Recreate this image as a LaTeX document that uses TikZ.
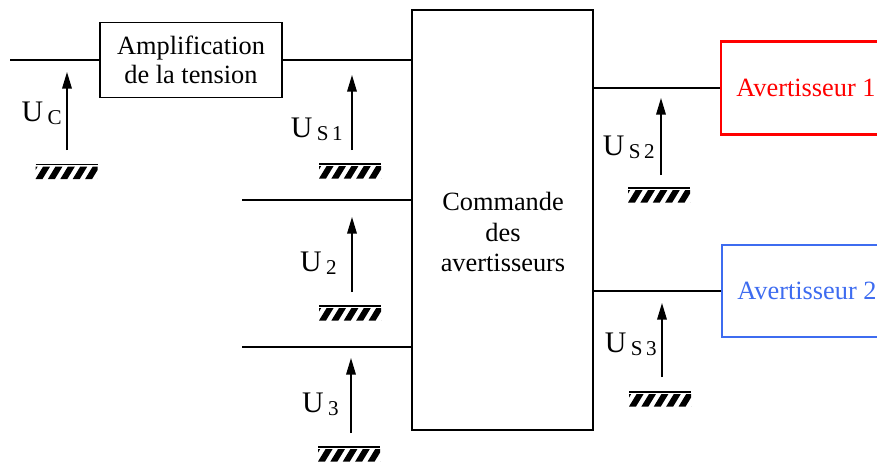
\documentclass[tikz,border=0pt]{standalone}
\usepackage{fontspec}
\setmainfont{Liberation Serif}
\usepackage{tikz}
\usetikzlibrary{arrows.meta,positioning,calc}
\usepackage{xcolor}
\definecolor{rougeav}{RGB}{255,0,0}
\definecolor{bleuav}{RGB}{62,108,240}
% tension label: U with its index set small and a bit lower
\newcommand{\tens}[1]{U\kern2.5pt\raisebox{-0.25ex}{\fontsize{12}{13}\selectfont #1}}

\begin{document}
\begin{tikzpicture}[x=0.02cm,y=-0.02cm,
 bloc/.style={draw,line width=1pt,align=center,font=\fontsize{15}{16.5}\selectfont},
 fil/.style={line width=1pt},
 fleche/.style={-{Triangle[length=9.5pt,width=5.5pt]},line width=0.8pt},
 lbltens/.style={anchor=base east,inner sep=0pt,font=\fontsize{17}{20}\selectfont},
 masse/.pic={
  \draw[line width=0.6pt] (-31,0) -- (31,0);
  \begin{scope}
   \clip (-31,2.2) rectangle (31,14.5);
   \foreach \i in {-1,...,5}
    \fill (\i*12.4-31,14.5) -- ++(7,0) -- ++(7.5,-12.3) -- ++(-7,0) -- cycle;
  \end{scope}
 }]
\clip (0,0) rectangle (877,464);

% blocks
\node[bloc,minimum width=3.64cm,minimum height=1.5cm] (ampli) at (191,60) {Amplification\\de la tension};
\node[bloc,minimum width=3.62cm,minimum height=8.4cm] (cmd) at (502.5,220) {};
\node[align=center,font=\fontsize{15}{17.3}\selectfont] (cmdtxt) at (503,232) {Commande\\des\\avertisseurs};
\node[bloc,draw=rougeav,text=rougeav,line width=1.3pt,minimum width=3.4cm,minimum height=1.86cm] (av1) at (806,88) {Avertisseur 1};
\node[bloc,draw=bleuav,text=bleuav,line width=1.3pt,minimum width=3.4cm,minimum height=1.84cm] (av2) at (807,291) {Avertisseur 2};

% wires
\coordinate (ue) at (10,60);
\coordinate (e2) at (242,200);
\coordinate (e3) at (242,347);
\draw[fil] (ue) -- (ue -| ampli.west);
\draw[fil] (ampli.east) -- (ampli.east -| cmd.west);
\draw[fil] (e2) -- (e2 -| cmd.west);
\draw[fil] (e3) -- (e3 -| cmd.west);
\draw[fil] (av1.west -| cmd.east) -- (av1.west);
\draw[fil] (av2.west -| cmd.east) -- (av2.west);

% tension arrows
\path (67,150) coordinate (ucb) (67,72) coordinate (uch);
\path (352,150) coordinate (us1b) (352,75) coordinate (us1h);
\path (352,292) coordinate (u2b) (352,217) coordinate (u2h);
\path (351,433) coordinate (u3b) (351,358) coordinate (u3h);
\path (661,175) coordinate (us2b) (661,98) coordinate (us2h);
\path (662,377) coordinate (us3b) (662,303) coordinate (us3h);
\draw[fleche] (ucb) -- (uch);
\draw[fleche] (us1b) -- (us1h);
\draw[fleche] (u2b) -- (u2h);
\draw[fleche] (u3b) -- (u3h);
\draw[fleche] (us2b) -- (us2h);
\draw[fleche] (us3b) -- (us3h);

\node[lbltens] (luc) at (62,121) {\tens{C}};
\node[lbltens] (lus1) at (343,137) {\tens{S\kern2pt 1}};
\node[lbltens] (lu2) at (337,271) {\tens{2}};
\node[lbltens] (lu3) at (339,412) {\tens{3}};
\node[lbltens] (lus2) at (655,155) {\tens{S\kern2pt 2}};
\node[lbltens] (lus3) at (657,352) {\tens{S\kern2pt 3}};

% grounds
\pic at (66.5,164.5) {masse};
\pic at (350,164) {masse};
\pic at (350,306) {masse};
\pic at (349,447) {masse};
\pic at (659,188) {masse};
\pic at (660,392) {masse};
\end{tikzpicture}
\end{document}
